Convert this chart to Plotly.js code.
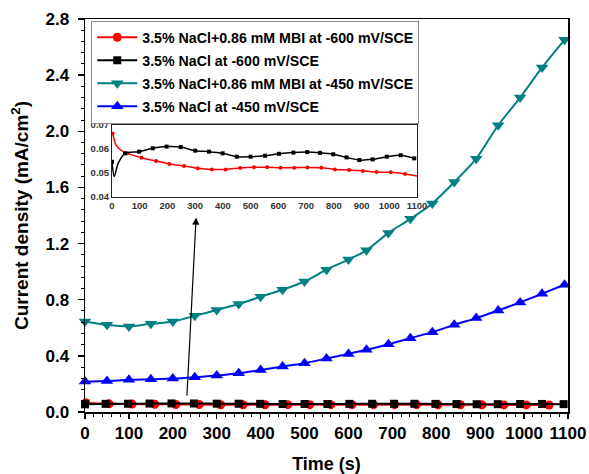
<!DOCTYPE html>
<html>
<head>
<meta charset="utf-8">
<script src="https://cdn.plot.ly/plotly-3.0.1.min.js"></script>
<style>
  html, body { margin: 0; padding: 0; background: #fff; }
  #chart { width: 589px; height: 474px; }
</style>
</head>
<body>
<div id="chart"></div>
<script>
// Sampling times (s) for the -450 mV/SCE polarisation curves
const t450 = [0, 50, 100, 150, 200, 250, 300, 350, 400, 450, 500, 550, 600,
              641, 691, 741, 791, 841, 891, 941, 991, 1041, 1092];
// 3.5% NaCl + 0.86 mM MBI at -450 mV/SCE (mA/cm2)
const mbi450 = [0.645, 0.621, 0.609, 0.628, 0.645, 0.685, 0.727, 0.769, 0.822, 0.871, 0.930, 1.014, 1.086,
                1.152, 1.276, 1.376, 1.486, 1.638, 1.805, 2.043, 2.240, 2.455, 2.652];
// 3.5% NaCl at -450 mV/SCE (mA/cm2)
const nacl450 = [0.217, 0.221, 0.229, 0.233, 0.238, 0.248, 0.260, 0.276, 0.300, 0.324, 0.348, 0.381, 0.414,
                 0.443, 0.483, 0.526, 0.569, 0.621, 0.669, 0.724, 0.781, 0.843, 0.907];

// 3.5% NaCl at -600 mV/SCE: marked samples
const nacl600T = [0, 47, 98, 147, 197, 248, 300, 350, 399, 450, 500, 552, 602,
                  654, 704, 750, 798, 846, 892, 940, 991, 1041, 1090];
const nacl600V = [0.0547, 0.0582, 0.0589, 0.0603, 0.0610, 0.0608, 0.0593, 0.0589, 0.0582, 0.0568, 0.0568, 0.0572, 0.0580,
                  0.0585, 0.0587, 0.0584, 0.0578, 0.0565, 0.0554, 0.0557, 0.0568, 0.0574, 0.0561];
// initial transient (dip) of the same curve, unmarked
const nacl600EarlyT = [8, 22];
const nacl600EarlyV = [0.0485, 0.0540];

// 3.5% NaCl + 0.86 mM MBI at -600 mV/SCE: marked samples
const mbi600T = [2, 55, 107, 159, 207, 260, 309, 360, 410, 462, 512, 560, 608,
                 657, 705, 755, 804, 855, 904, 954, 1005, 1057];
const mbi600V = [0.0665, 0.0582, 0.0564, 0.0550, 0.0538, 0.0529, 0.0520, 0.0515, 0.0515, 0.0521, 0.0524, 0.0524, 0.0522,
                 0.0522, 0.0523, 0.0522, 0.0515, 0.0513, 0.0508, 0.0504, 0.0503, 0.0496];
// unmarked points of the same curve (fast decay and tail)
const mbi600ExtraT = [14, 30, 1100];
const mbi600ExtraV = [0.0618, 0.0597, 0.0488];

// Legend names
const names = [
  '3.5% NaCl+0.86 mM MBI at -600 mV/SCE',
  '3.5% NaCl at -600 mV/SCE',
  '3.5% NaCl+0.86 mM MBI at -450 mV/SCE',
  '3.5% NaCl at -450 mV/SCE'
];

const FONT = 'Liberation Sans, Arial, sans-serif';
const RED = '#ff0000', BLACK = '#000000', TEAL = '#008080', BLUE = '#0000ff';

function merge(t1, v1, t2, v2) {
  const pts = t1.map((t, i) => [t, v1[i]]).concat(t2.map((t, i) => [t, v2[i]]));
  pts.sort((a, b) => a[0] - b[0]);
  return { x: pts.map(p => p[0]), y: pts.map(p => p[1]) };
}

const blackLine = merge(nacl600T, nacl600V, nacl600EarlyT, nacl600EarlyV);
const redLine = merge(mbi600T, mbi600V, mbi600ExtraT, mbi600ExtraV);

function mainTrace(x, y, name, color, symbol, size, group) {
  return {
    x, y, name, legendgroup: group, type: 'scatter', mode: 'lines+markers',
    line: { color, width: 2, shape: 'spline', smoothing: 0.8 },
    marker: { color, symbol, size },
    cliponaxis: false,
    xaxis: 'x', yaxis: 'y'
  };
}

const traces = [
  mainTrace(mbi600T, mbi600V, names[0], RED, 'circle', 9, 'g1'),
  mainTrace(nacl600T, nacl600V, names[1], BLACK, 'square', 8, 'g2'),
  mainTrace(t450, mbi450, names[2], TEAL, 'triangle-down', 11, 'g3'),
  mainTrace(t450, nacl450, names[3], BLUE, 'triangle-up', 11, 'g4'),
  // inset: magnified -600 mV/SCE curves
  { x: redLine.x, y: redLine.y, type: 'scatter', mode: 'lines', showlegend: false,
    line: { color: RED, width: 1.5, shape: 'spline', smoothing: 0.8 }, xaxis: 'x2', yaxis: 'y2', hoverinfo: 'skip' },
  { x: mbi600T, y: mbi600V, type: 'scatter', mode: 'markers', showlegend: false,
    marker: { color: RED, symbol: 'circle', size: 4 }, xaxis: 'x2', yaxis: 'y2' },
  { x: blackLine.x, y: blackLine.y, type: 'scatter', mode: 'lines', showlegend: false,
    line: { color: BLACK, width: 1.5, shape: 'spline', smoothing: 0.8 }, xaxis: 'x2', yaxis: 'y2', hoverinfo: 'skip' },
  { x: nacl600T, y: nacl600V, type: 'scatter', mode: 'markers', showlegend: false,
    marker: { color: BLACK, symbol: 'square', size: 4 }, xaxis: 'x2', yaxis: 'y2' }
];

const layout = {
  width: 589, height: 474,
  margin: { l: 85, r: 21, t: 19, b: 62 },
  paper_bgcolor: '#ffffff', plot_bgcolor: '#ffffff',
  font: { family: FONT, color: '#000' },
  showlegend: true,
  legend: {
    x: 0.013, y: 0.996, xanchor: 'left', yanchor: 'top',
    bgcolor: '#ffffff', bordercolor: '#8c8c8c', borderwidth: 1,
    font: { family: FONT, size: 14.2, color: '#000', weight: 'bold' },
    itemwidth: 40, tracegroupgap: 1.5
  },
  xaxis: {
    domain: [0, 1], range: [0, 1100], tick0: 0, dtick: 100,
    showgrid: false, zeroline: false,
    showline: true, linecolor: '#000', linewidth: 1.5, mirror: true,
    ticks: 'outside', ticklen: 5, tickwidth: 1.3, tickcolor: '#000',
    minor: { dtick: 20, ticks: 'outside', ticklen: 3, tickwidth: 1, tickcolor: '#000' },
    tickfont: { family: FONT, size: 17, weight: 'bold' },
    title: { text: 'Time (s)', font: { family: FONT, size: 18, weight: 'bold' }, standoff: 20 }
  },
  yaxis: {
    domain: [0, 1], range: [0, 2.8], tick0: 0, dtick: 0.4, tickformat: '.1f',
    showgrid: false, zeroline: false,
    showline: true, linecolor: '#000', linewidth: 1.5, mirror: true,
    ticks: 'outside', ticklen: 6, tickwidth: 1.3, tickcolor: '#000', ticklabelstandoff: 5,
    minor: { dtick: 0.08, ticks: 'outside', ticklen: 3, tickwidth: 1, tickcolor: '#000' },
    tickfont: { family: FONT, size: 17, weight: 'bold' },
    title: { text: 'Current density (mA/cm<sup>2</sup>)', font: { family: FONT, size: 19, weight: 'bold' }, standoff: 12 }
  },
  xaxis2: {
    domain: [0.0559, 0.6874], anchor: 'y2', range: [0, 1100], dtick: 100,
    showgrid: false, zeroline: false,
    showline: true, linecolor: '#222', linewidth: 1, mirror: true,
    ticks: '', tickfont: { family: FONT, size: 9.5, weight: 'bold', color: '#333' }
  },
  yaxis2: {
    domain: [0.547, 0.7303], anchor: 'x2', range: [0.04, 0.07], dtick: 0.01, tickformat: '.2f',
    showgrid: false, zeroline: false,
    showline: true, linecolor: '#222', linewidth: 1, mirror: true,
    ticks: '', tickfont: { family: FONT, size: 9.5, weight: 'bold', color: '#333' }
  },
  annotations: [{
    x: 253, y: 1.386, xref: 'x', yref: 'y',
    ax: 232, ay: 0.107, axref: 'x', ayref: 'y',
    text: '', showarrow: true, arrowhead: 2, arrowsize: 1.2, arrowwidth: 1.2, arrowcolor: '#000'
  }]
};

Plotly.newPlot('chart', traces, layout, { displayModeBar: false, staticPlot: true });
</script>
</body>
</html>
